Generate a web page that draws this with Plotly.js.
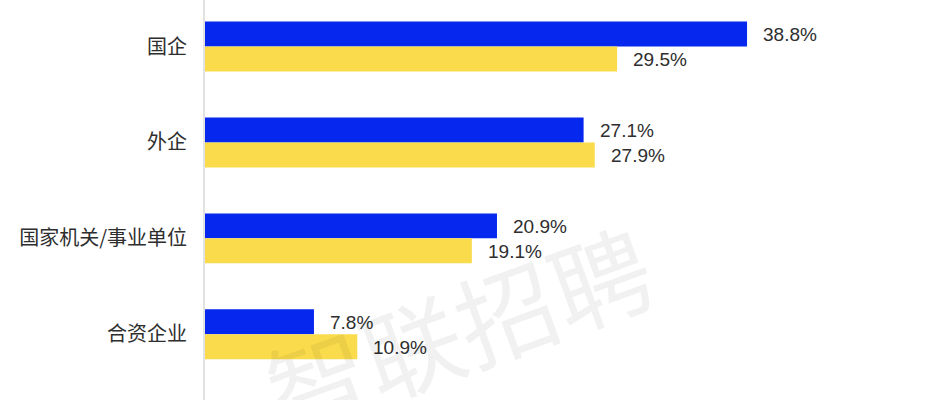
<!DOCTYPE html>
<html>
<head>
<meta charset="utf-8">
<script src="https://cdn.plot.ly/plotly-3.0.1.min.js"></script>
<style>html,body{margin:0;padding:0;background:#fff;}#chart{width:939px;height:400px;}</style>
</head>
<body>
<div id="chart"></div>
<script>
const categories = ["国企", "外企", "国家机关/事业单位", "合资企业"];
const seriesBlue = [38.8, 27.1, 20.9, 7.8];
const seriesYellow = [29.5, 27.9, 19.1, 10.9];
const watermarkText = "智联招聘";

const fontFamily = "'Liberation Sans', 'Noto Sans CJK SC', Arial, sans-serif";

const traces = [
  {type: "bar", orientation: "h", y: categories, x: seriesBlue, name: "A",
   marker: {color: "#0628ee"}, hoverinfo: "x"},
  {type: "bar", orientation: "h", y: categories, x: seriesYellow, name: "B",
   marker: {color: "#fadb4b"}, hoverinfo: "x"}
];

const annotations = [];
categories.forEach((c, i) => {
  annotations.push({x: seriesBlue[i], y: c, xref: "x", yref: "y", text: seriesBlue[i].toFixed(1) + "%",
    showarrow: false, xanchor: "left", yanchor: "middle", xshift: 14, yshift: 12,
    font: {family: fontFamily, size: 19, color: "#2e2e2e"}});
  annotations.push({x: seriesYellow[i], y: c, xref: "x", yref: "y", text: seriesYellow[i].toFixed(1) + "%",
    showarrow: false, xanchor: "left", yanchor: "middle", xshift: 14, yshift: -13,
    font: {family: fontFamily, size: 19, color: "#2e2e2e"}});
});
annotations.push({
  x: (458 - 205) / (939 - 205), y: 1 - 326 / 400, xref: "paper", yref: "paper",
  text: watermarkText, showarrow: false, textangle: -20, xanchor: "center", yanchor: "middle",
  font: {family: "'Noto Sans CJK SC', sans-serif", size: 100, color: "rgba(0,0,0,0.055)"}});

const layout = {
  width: 939, height: 400,
  margin: {l: 205, r: 0, t: 0, b: 0, pad: 0},
  paper_bgcolor: "#fff", plot_bgcolor: "#fff",
  showlegend: false,
  barmode: "group", bargap: 0.479, bargroupgap: 0,
  xaxis: {range: [0, 52.54], visible: false, showgrid: false, zeroline: false},
  yaxis: {type: "category", range: [3.685, -0.485], showgrid: false, zeroline: false,
    showline: true, linecolor: "#e2e2e2", linewidth: 2, ticks: "", ticklabelstandoff: 12,
    tickfont: {family: "'Noto Sans CJK SC', sans-serif", size: 20, color: "#2e2e2e"}},
  annotations: annotations
};

Plotly.newPlot("chart", traces, layout, {displayModeBar: false, staticPlot: true});
</script>
</body>
</html>
